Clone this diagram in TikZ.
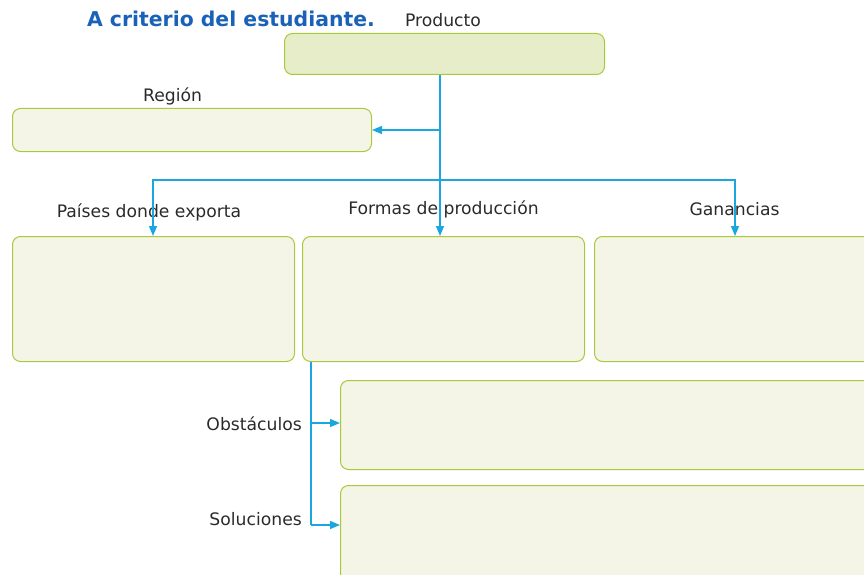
\documentclass[tikz,border=0pt]{standalone}
\usepackage{fontspec}
\setmainfont{DejaVu Sans}
\usetikzlibrary{arrows.meta}
\definecolor{lineblue}{HTML}{1BA6E0}
\definecolor{titleblue}{HTML}{1A62B8}
\definecolor{boxborder}{HTML}{A9C93C}
\definecolor{boxfill}{HTML}{F4F5E6}
\definecolor{topfill}{HTML}{E6EDC8}
\definecolor{txt}{HTML}{2A2A2A}
\tikzset{
  box/.style={draw=boxborder, fill=boxfill, line width=1pt, rounded corners=8pt, anchor=north west, inner sep=0pt},
  conn/.style={draw=lineblue, line width=1.3pt},
  arr/.style={conn, -{Triangle[length=10pt,width=8pt]}},
  lbl/.style={text=txt, font=\fontsize{17.2}{19}\selectfont, inner sep=0pt}
}
\begin{document}
\begin{tikzpicture}[x=1pt,y=-1pt]
\useasboundingbox (0,0) rectangle (864,575);
\clip (0,0) rectangle (864,575);
% title
\node[text=titleblue, font=\fontsize{20.4}{23}\selectfont\bfseries, inner sep=0pt] (title) at (231,19) {A criterio del estudiante.};
\node[lbl] (lprod) at (443,20) {Producto};
% boxes
\node[box, fill=topfill, minimum width=320pt, minimum height=41pt] (prod) at (284,33) {};
\node[lbl] (lreg) at (172.5,96) {Región};
\node[box, minimum width=359pt, minimum height=43pt] (reg) at (12,108) {};
\node[lbl] (lpais) at (149,212) {Países donde exporta};
\node[lbl] (lform) at (443.5,209) {Formas de producción};
\node[lbl] (lgan) at (734.5,209) {Ganancias};
\node[box, minimum width=282pt, minimum height=125pt] (pais) at (12,236) {};
\node[box, minimum width=282pt, minimum height=125pt] (form) at (302,236) {};
\node[box, minimum width=282pt, minimum height=125pt] (gan) at (594,236) {};
\node[box, minimum width=540pt, minimum height=89pt] (obs) at (340,380) {};
\node[box, minimum width=540pt, minimum height=100pt] (sol) at (340,485) {};
\node[lbl, anchor=east] (lobs) at (302,424) {Obstáculos};
\node[lbl, anchor=east] (lsol) at (302,519) {Soluciones};
% connectors
\coordinate (vx) at (440,0);
\coordinate (jreg) at (440,130);
\coordinate (jbar) at (440,180);
\coordinate (jl) at (153,180);
\coordinate (jr) at (735,180);
\draw[arr] (prod.south -| vx) -- (form.north -| vx);
\draw[arr] (jreg) -- (reg.east |- jreg);
\draw[arr] (jbar) -- (jl) -- (pais.north -| jl);
\draw[arr] (jbar) -- (jr) -- (gan.north -| jr);
\coordinate (sx) at (311,0);
\coordinate (jobs) at (311,423);
\coordinate (jsol) at (311,525);
\draw[conn] (form.south -| sx) -- (jsol);
\draw[arr] (jobs) -- (obs.west |- jobs);
\draw[arr] (jsol) -- (sol.west |- jsol);
\end{tikzpicture}
\end{document}
